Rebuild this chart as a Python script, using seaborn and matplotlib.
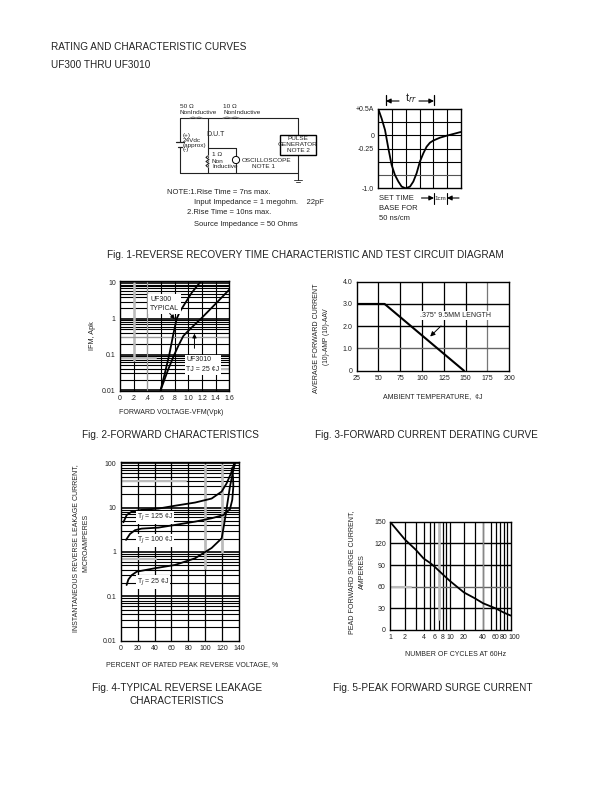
import numpy as np
import matplotlib
matplotlib.use("Agg")
import matplotlib.pyplot as plt
from matplotlib.patches import Rectangle, Circle
from matplotlib.transforms import ScaledTranslation
import seaborn as sns

sns.set_style("white")
plt.rcParams['font.family'] = ['Liberation Sans', 'DejaVu Sans']

W, H = 612, 792
TXT = "#222222"

# Fig 1 scope
scope_x = [0, .24, .49, .73, .97, 1.21, 1.46, 1.70, 1.99, 2.31, 2.55, 2.79, 3.03, 3.28, 3.52, 3.76, 4.0, 4.49, 4.98, 5.46, 6]
scope_y = [0, .71, 1.59, 2.97, 4.23, 4.99, 5.49, 5.87, 6, 5.87, 5.49, 4.86, 3.98, 3.35, 2.85, 2.55, 2.39, 2.17, 2.02, 1.89, 1.74]
scope_ticks = [0, 2, 3, 6]
scope_labels = ["+0.5A", "0", "-0.25", "-1.0"]
# Fig 2
fwd_v_typ = [0.595, 0.659, 0.722, 0.78, 0.83, 0.875, 0.927, 1.05, 1.185, 1.2]
fwd_i_typ = [0.0102, 0.0316, 0.1, 0.367, 1.0, 1.55, 2.25, 5.3, 11.1, 11.5]
fwd_v_3010 = [0.595, 0.707, 0.795, 0.86, 0.927, 1.0, 1.073, 1.185, 1.39, 1.6]
fwd_i_3010 = [0.0102, 0.039, 0.1, 0.185, 0.33, 0.46, 0.63, 1.0, 2.5, 6.5]
fwd_xticks = [0, .2, .4, .6, .8, 1.0, 1.2, 1.4, 1.6]
fwd_xlabels = ["0", ".2", ".4", ".6", ".8", "1.0", "1.2", "1.4", "1.6"]
# Fig 3
temp = [25, 57, 148]
derate = [3.0, 3.0, 0.0]
temp_ticks = [25, 50, 75, 100, 125, 150, 175, 200]
derate_ticks = [0, 1, 2, 3, 4]
derate_labels = ["0", "1.0", "2.0", "3.0", "4.0"]
# Fig 4
pct_125 = [3.2, 7.1, 13, 24.8, 44.6, 64, 88, 107.6, 119.5, 125.4, 130.5, 135]
leak_125 = [4.67, 6.8, 8.1, 8.9, 9.5, 11.0, 13, 16, 23, 35.4, 59, 108]
pct_100 = [6.3, 11, 17, 24.8, 44.6, 64, 88, 107.6, 121.5, 129.3, 132, 133.3, 132.9, 131.3]
leak_100 = [1.87, 2.55, 3.1, 3.36, 3.54, 4.06, 4.83, 5.75, 6.8, 9.2, 14.9, 29.8, 50, 77]
pct_25 = [7, 9.1, 13, 19, 40.6, 64.3, 88, 107.6, 119.5, 122.6, 125.4, 129.3, 133.3, 136]
leak_25 = [0.18, 0.24, 0.3, 0.36, 0.43, 0.51, 0.72, 1.23, 2.03, 4.4, 9.7, 29.8, 70, 112]
pct_ticks = list(range(0, 141, 20))
# Fig 5
cycles = [1, 2, 3, 4, 5, 6, 8, 10, 20, 30, 40, 60, 80, 100]
surge = [150, 125.5, 111, 99, 93, 88, 77, 68, 52, 44, 37, 30, 24, 20]
cyc_major = [1, 2, 4, 6, 8, 10, 20, 40, 60, 80, 100]
cyc_lines = [2, 3, 4, 5, 6, 7, 8, 9, 10, 20, 30, 40, 50, 60, 70, 80, 90]
# the printed axis is not a true log axis: where each cycle count sits on it
cyc_table = [1, 2, 3, 4, 5, 6, 7, 8, 9, 10, 20, 30, 40, 50, 60, 70, 80, 90, 100]
cyc_pos = [18, 62, 95, 118, 137, 150, 165, 175, 186, 196, 238, 270, 295, 318, 332, 345, 357, 367, 377]
surge_ticks = [0, 30, 60, 90, 120, 150]

log_ticks = [0.01, 0.1, 1, 10, 100]
log_labels = ["0.01", "0.1", "1", "10", "100"]

fig = plt.figure(figsize=(W / 100, H / 100), dpi=100, facecolor="white")


def box(x0, y0, x1, y1):
    ax = fig.add_axes([x0 / W, 1 - y1 / H, (x1 - x0) / W, (y1 - y0) / H])
    ax.set_facecolor("white")
    for s in ax.spines.values():
        s.set_linewidth(1.0)
        s.set_color("black")
        s.set_zorder(6)
    ax.tick_params(length=0, labelsize=5, pad=3, colors=TXT)
    return ax


def log_lines(ax, lo, hi):
    for e in range(lo, hi):
        for m in range(1, 10):
            v = m * 10.0 ** e
            if ax.get_ylim()[0] < v < ax.get_ylim()[1]:
                ax.axhline(v, color="black", lw=1.2 if m == 1 else 0.8, zorder=1)


def curve(ax, xs, ys, lw=1.3):
    sns.lineplot(x=xs, y=ys, ax=ax, color="black", lw=lw, estimator=None,
                 sort=False, zorder=4, legend=False)


# ---------- Fig 1 scope ----------
ax = box(378.3, 109, 460.7, 188.3)
ax.set_xlim(0, 6)
ax.set_ylim(6, 0)
for v in range(1, 6):
    ax.axvline(v, color="black", lw=0.8, zorder=1)
    ax.axhline(v, color="#555555" if v == 5 else "black", lw=0.8, zorder=1)
curve(ax, scope_x, scope_y)
ax.set_xticks([])
ax.set_yticks(scope_ticks, scope_labels)

# ---------- Fig 2 ----------
ax = box(120, 280.7, 229.3, 390.7)
ax.set_xlim(0, 1.6)
ax.set_yscale("log")
ax.set_ylim(0.0098, 11.5)
ax.minorticks_off()
log_lines(ax, -2, 2)
for v in fwd_xticks[1:-1]:
    ax.axvline(v, color="black", lw=0.8, zorder=1)
ax.axvline(0.2, color="#bbbbbb", lw=1.8, zorder=2, ymin=0.28, ymax=0.98)
ax.axvline(0.4, color="#999999", lw=0.8, zorder=2)
ax.axhline(0.3, color="#999999", lw=0.8, zorder=2)
ax.axhline(0.08, color="#bbbbbb", lw=1.5, xmax=0.33, zorder=2)
ax.axhline(0.04, color="#bbbbbb", lw=1.5, xmin=0.83, zorder=2)
curve(ax, fwd_v_typ, fwd_i_typ)
curve(ax, fwd_v_3010, fwd_i_3010)
ax.set_xticks(fwd_xticks, fwd_xlabels)
ax.set_yticks(log_ticks[:3] + [10], ["0.01", "0.1", "1", "10"])
ax.minorticks_off()
bb = dict(boxstyle="square,pad=0.25", fc="white", ec="none")
ax.text(0.44, 2.6, "UF300\nTYPICAL", fontsize=5, color=TXT, va="center", ha="left",
        zorder=5, bbox=bb, linespacing=1.5)
ax.text(0.97, 0.052, "UF3010\nTJ = 25 ¢J", fontsize=5, color=TXT, va="center", ha="left",
        zorder=5, bbox=bb, linespacing=1.5)
ax.annotate("", xy=(0.83, 0.85), xytext=(0.7, 1.6), zorder=5,
            arrowprops=dict(arrowstyle="-|>", color="black", lw=0.7, mutation_scale=6))
ax.annotate("", xy=(1.09, 0.46), xytext=(1.09, 0.125), zorder=5,
            arrowprops=dict(arrowstyle="-|>", color="black", lw=0.7, mutation_scale=6))

# ---------- Fig 3 ----------
ax = box(356.7, 281.7, 509.3, 370.7)
ax.set_xlim(25, 200)
ax.set_ylim(0, 4)
for v in temp_ticks[1:-1]:
    ax.axvline(v, color="#777777" if v == 175 else "black", lw=0.9, zorder=1)
for v in derate_ticks[1:-1]:
    ax.axhline(v, color="#666666" if v == 1 else "black", lw=1.0, zorder=1)
curve(ax, temp, derate, lw=1.5)
ax.set_xticks(temp_ticks)
ax.set_yticks(derate_ticks, derate_labels)
ax.text(138, 2.47, '.375" 9.5MM LENGTH', fontsize=5, color=TXT, ha="center", va="center",
        zorder=5, bbox=dict(boxstyle="square,pad=0.15", fc="white", ec="none"))
ax.annotate("", xy=(107, 1.45), xytext=(124, 2.1), zorder=5,
            arrowprops=dict(arrowstyle="-|>", color="black", lw=0.7, mutation_scale=7))

# ---------- Fig 4 ----------
ax = box(120.7, 462.3, 239, 640.7)
ax.set_xlim(0, 140)
ax.set_yscale("log")
ax.set_ylim(0.01, 105)
log_lines(ax, -2, 3)
for v in pct_ticks[1:-1]:
    ax.axvline(v, color="black", lw=0.9, zorder=1)
ax.axvline(100, color="#bbbbbb", lw=1.8, ymin=0.41, ymax=0.985, zorder=2)
ax.axvline(120, color="#bbbbbb", lw=1.8, ymin=0.5, ymax=0.985, zorder=2)
ax.axhline(40, color="#bbbbbb", lw=1.5, xmax=0.55, zorder=2)
ax.axhline(0.7, color="#bbbbbb", lw=1.5, xmax=0.3, zorder=2)
curve(ax, pct_125, leak_125)
curve(ax, pct_100, leak_100)
curve(ax, pct_25, leak_25)
ax.set_xticks(pct_ticks)
ax.set_yticks(log_ticks, log_labels)
ax.minorticks_off()
wb = dict(boxstyle="square,pad=0.15", fc="white", ec="none")
ax.text(19, 5.95, "T$_{J}$ = 125 ¢J", fontsize=5, color=TXT, va="center", zorder=5, bbox=wb)
ax.text(19, 1.8, "T$_{J}$ = 100 ¢J", fontsize=5, color=TXT, va="center", zorder=5, bbox=wb)
ax.text(19, 0.21, "T$_{J}$ = 25 ¢J", fontsize=5, color=TXT, va="center", zorder=5, bbox=wb)

# ---------- Fig 5 ----------
ax = box(390, 521.7, 510.7, 630)
ax.set_xscale("function", functions=(lambda v: np.interp(v, cyc_table, cyc_pos),
                                     lambda p: np.interp(p, cyc_pos, cyc_table)))
ax.set_xlim(1, 100)
ax.set_ylim(0, 150)
for v in cyc_lines:
    ax.axvline(v, color="black", lw=0.9, zorder=1)
for v in surge_ticks[1:-1]:
    ax.axhline(v, color="#666666" if v == 60 else "black", lw=1.0, zorder=1)
ax.axvline(7, color="#bbbbbb", lw=1.8, ymin=0.1, zorder=2)
ax.axvline(40, color="#888888", lw=1.0, zorder=2)
ax.axhline(60, color="#bbbbbb", lw=1.5, xmax=0.17, zorder=2)
curve(ax, cycles, surge)
ax.set_xticks(cyc_major, [str(c) for c in cyc_major])
ax.minorticks_off()
ax.set_yticks(surge_ticks)
last = ax.get_xticklabels()[-1]
last.set_transform(last.get_transform() + ScaledTranslation(4 / 100, 0, fig.dpi_scale_trans))

# ---------- page overlay in pixel coordinates ----------
pg = fig.add_axes([0, 0, 1, 1], facecolor="none")
pg.set_xlim(0, W)
pg.set_ylim(H, 0)
pg.axis("off")


def t(x, y, s, size=6.6, ha="left", rot=0, **kw):
    pg.text(x, y, s, fontsize=size, ha=ha, va="center", rotation=rot, color=TXT,
            rotation_mode="anchor" if rot else "default", **kw)


t(51, 47, "RATING AND CHARACTERISTIC CURVES", 7.2)
t(51, 65, "UF300 THRU UF3010", 7.2)
t(305, 255, "Fig. 1-REVERSE RECOVERY TIME CHARACTERISTIC AND TEST CIRCUIT DIAGRAM", 7.2, "center")
t(170, 435, "Fig. 2-FORWARD CHARACTERISTICS", 7.2, "center")
t(426, 435, "Fig. 3-FORWARD CURRENT DERATING CURVE", 7.2, "center")
t(177, 688, "Fig. 4-TYPICAL REVERSE LEAKAGE", 7.2, "center")
t(177, 701, "CHARACTERISTICS", 7.2, "center")
t(433, 688, "Fig. 5-PEAK FORWARD SURGE CURRENT", 7.2, "center")

t(171, 413, "FORWARD VOLTAGE-VFM(Vpk)", 5.0, "center")
t(433, 397, "AMBIENT TEMPERATURE,  ¢J", 5.0, "center")
t(192, 665, "PERCENT OF RATED PEAK REVERSE VOLTAGE, %", 5.0, "center")
t(455.5, 654, "NUMBER OF CYCLES AT 60Hz", 5.0, "center")
t(93, 336, "IFM, Apk", 5.2, "center", 90)
t(316, 338, "AVERAGE FORWARD CURRENT", 5.1, "center", 90)
t(327, 337, "(10)-AMP (10)-AAV", 4.8, "center", 90)
t(76, 548, "INSTANTANEOUS REVERSE LEAKAGE CURRENT,", 5.05, "center", 90)
t(86, 543, "MICROAMPERES", 5.05, "center", 90)
t(352, 572, "PEAD FORWARD SURGE CURRENT,", 5.1, "center", 90)
t(362.5, 572, "AMPERES", 5.1, "center", 90)

t(167, 193, "NOTE:1.Rise Time = 7ns max.", 5.5)
t(194, 203, "Input Impedance = 1 megohm.    22pF", 5.5)
t(187, 213, "2.Rise Time = 10ns max.", 5.5)
t(194, 225, "Source Impedance = 50 Ohms", 5.5)
t(379, 199, "SET TIME", 5.5)
t(379, 209, "BASE FOR", 5.5)
t(379, 219, "50 ns/cm", 5.5)
t(410.5, 98, "t$_{rr}$", 8, "center")
t(440.5, 198, "1cm", 4.5, "center")

# trr and 1cm dimension arrows
trr_left, trr_right, trr_y = 386, 434, 101
pg.plot([trr_left, trr_left], [95, 105], color="k", lw=0.9)
pg.plot([trr_right, trr_right], [95, 105], color="k", lw=0.9)
pg.annotate("", xy=(trr_left, trr_y), xytext=(399, trr_y),
            arrowprops=dict(arrowstyle="-|>", color="k", lw=0.8, mutation_scale=7, shrinkA=0, shrinkB=0))
pg.annotate("", xy=(trr_right, trr_y), xytext=(419, trr_y),
            arrowprops=dict(arrowstyle="-|>", color="k", lw=0.8, mutation_scale=7, shrinkA=0, shrinkB=0))
cm_left, cm_right = 434, 447
pg.plot([cm_left, cm_left], [193, 204], color="k", lw=0.8)
pg.plot([cm_right, cm_right], [193, 204], color="k", lw=0.8)
pg.annotate("", xy=(cm_left, 198), xytext=(421.5, 198),
            arrowprops=dict(arrowstyle="-|>", color="k", lw=0.8, mutation_scale=7, shrinkA=0, shrinkB=0))
pg.annotate("", xy=(cm_right, 198), xytext=(459, 198),
            arrowprops=dict(arrowstyle="-|>", color="k", lw=0.8, mutation_scale=7, shrinkA=0, shrinkB=0))

# circuit wires
wires = [
    ((180, 298), (118, 118)),   # top
    ((298, 298), (118, 135)),   # to generator
    ((298, 298), (155, 180)),   # generator to ground
    ((180, 298), (173, 173)),   # bottom
    ((180, 180), (118, 142)),   # left upper
    ((180, 180), (147, 173)),   # left lower
    ((207.5, 207.5), (118, 173)),   # dut / resistor
    ((207.5, 236), (148, 148)),   # scope top
    ((236, 236), (148, 156)),
    ((236, 236), (164, 173)),
]
for xs, ys in wires:
    pg.plot(xs, ys, color="#222222", lw=0.8, zorder=3)
pg.plot([176, 184], [142, 142], color="#222222", lw=0.9)
pg.plot([178, 182], [147, 147], color="#222222", lw=0.9)
pg.plot([294, 302], [180, 180], color="#444444", lw=0.7)
pg.plot([296, 300], [182, 182], color="#444444", lw=0.7)
pg.add_patch(Rectangle((280, 135), 36, 20, fc="white", ec="black", lw=1.0, zorder=4))
pg.add_patch(Circle((236, 160), 3.6, fc="white", ec="black", lw=0.7, zorder=4))
res_x = [207.5, 206, 209, 206, 209, 206, 207.5]
res_y = [156, 157.5, 159.5, 161.5, 163.5, 165.5, 167]
pg.plot(res_x, res_y, color="white", lw=1.6, zorder=4)
pg.plot(res_x, res_y, color="#222222", lw=0.8, zorder=5)
# grey resistor wiggles on the top wire
wig1_x, wig1_y = [190, 193, 196, 199, 202], [118, 117, 118, 117, 118]
wig2_x, wig2_y = [223, 227, 231, 235, 239], [118, 117, 118, 117, 118]
pg.plot(wig1_x, wig1_y, color="#888888", lw=0.8, zorder=4)
pg.plot(wig2_x, wig2_y, color="#888888", lw=0.8, zorder=4)

cs = 4.6
t(180, 107, "50 Ω", cs)
t(180, 113, "NonInductive", cs)
t(223, 107, "10 Ω", cs)
t(223, 113, "NonInductive", cs)
t(206, 135, "D.U.T", cs + 0.4)
t(183, 135, "(+)", cs)
t(183, 140, "24Vdc", cs)
t(183, 145, "(approx)", cs)
t(183, 150, "(-)", cs)
t(212, 155, "1 Ω", cs)
t(212, 161.5, "Non", cs)
t(212, 166.5, "Inductive", cs)
t(242, 160.7, "OSCILLOSCOPE", cs)
t(263, 166, "NOTE 1", cs, "center")
t(298, 139, "PULSE", cs, "center", zorder=6)
t(298, 145, "GENERATOR", cs, "center", zorder=6)
t(298, 150.5, "NOTE 2", cs, "center", zorder=6)

fig.savefig("out.png", dpi=100)
